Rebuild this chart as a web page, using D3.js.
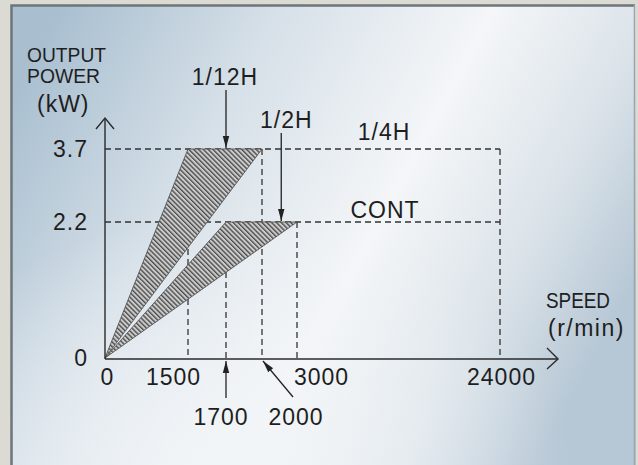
<!DOCTYPE html>
<html>
<head>
<meta charset="utf-8">
<script src="https://cdn.jsdelivr.net/npm/d3@7"></script>
<style>
  body { margin: 0; background: #dcdbd3; }
  svg { display: block; }
  text { font-family: "Liberation Sans", Arial, sans-serif; fill: #1e1e1e; }
</style>
</head>
<body>
<div id="chart"></div>
<script>
// chart values
var speedTicks = [0, 1500, 3000, 24000];
var speedCallouts = [1700, 2000];
var powerTicks = [0, 2.2, 3.7];
var speedBreaks = [0, 1500, 1700, 2000, 3000, 24000];
var powerBreaks = [0, 2.2, 3.7];

// hatched ranges: [speed at lower corner, speed at upper corner, power]
var ranges = [
  { name: "1/12H", from: 1500, to: 2000, power: 3.7 },
  { name: "1/2H",  from: 1700, to: 3000, power: 2.2 }
];
var dashedH = [
  { power: 3.7, to: 24000 },
  { power: 2.2, to: 24000 }
];
var dashedV = [
  { speed: 1500, power: 3.7 },
  { speed: 2000, power: 3.7 },
  { speed: 1700, power: 2.2 },
  { speed: 3000, power: 2.2 },
  { speed: 24000, power: 3.7 }
];

var W = 638, H = 465;

// the drawing is schematic: piecewise scales
var x = d3.scaleLinear().domain(speedBreaks).range([105, 188, 226, 262, 297, 500]);
var y = d3.scaleLinear().domain(powerBreaks).range([358, 222, 149]);

var svg = d3.select("#chart").append("svg")
  .attr("width", W)
  .attr("height", H);

var defs = svg.append("defs");

// panel gradient
var grad = defs.append("linearGradient")
  .attr("id", "bg")
  .attr("x1", 0).attr("y1", 0.2)
  .attr("x2", 1).attr("y2", 0.6);
[[0, "#a9bfd0"], [0.3, "#d6e0e8"], [0.6, "#f4f6f8"], [0.82, "#dbe3e9"], [1, "#b6c7d5"]]
  .forEach(function(s) {
    grad.append("stop").attr("offset", s[0]).attr("stop-color", s[1]);
  });

var glow = defs.append("radialGradient")
  .attr("id", "glow")
  .attr("cx", 0.35).attr("cy", 1).attr("r", 0.55);
glow.append("stop").attr("offset", 0).attr("stop-color", "#f2f5f8").attr("stop-opacity", 0.9);
glow.append("stop").attr("offset", 1).attr("stop-color", "#f2f5f8").attr("stop-opacity", 0);

// hatch pattern
var hatch = defs.append("pattern")
  .attr("id", "hatch")
  .attr("patternUnits", "userSpaceOnUse")
  .attr("width", 3.4)
  .attr("height", 3.4)
  .attr("patternTransform", "rotate(-45)");
hatch.append("rect")
  .attr("width", 3.4).attr("height", 3.4)
  .attr("fill", "#cbcbcb");
hatch.append("line")
  .attr("x1", 0.7).attr("y1", 0)
  .attr("x2", 0.7).attr("y2", 3.4)
  .attr("stroke", "#454545")
  .attr("stroke-width", 1.3);

// arrowhead
defs.append("marker")
  .attr("id", "head")
  .attr("viewBox", "0 0 12 8")
  .attr("refX", 12).attr("refY", 4)
  .attr("markerWidth", 12).attr("markerHeight", 8)
  .attr("markerUnits", "userSpaceOnUse")
  .attr("orient", "auto")
  .append("path")
  .attr("d", "M0,0.8L12,4L0,7.2Z")
  .attr("fill", "#222");

// panel and frame
svg.append("rect")
  .attr("x", 11).attr("y", 5)
  .attr("width", W - 13).attr("height", H)
  .attr("fill", "url(#bg)");
svg.append("rect")
  .attr("x", 11).attr("y", 5)
  .attr("width", W - 13).attr("height", H)
  .attr("fill", "url(#glow)");
svg.append("path")
  .attr("d", "M11.5," + H + "V5.5H" + (W - 3))
  .attr("fill", "none")
  .attr("stroke", "#6d757b")
  .attr("stroke-width", 2.5);
svg.append("line")
  .attr("x1", W - 3.5).attr("y1", 5)
  .attr("x2", W - 3.5).attr("y2", H)
  .attr("stroke", "#9aa4ab")
  .attr("stroke-width", 1.5);

// dashed guide lines
var guides = svg.append("g")
  .attr("stroke", "#333")
  .attr("stroke-width", 1.3)
  .attr("stroke-dasharray", "6,4")
  .attr("fill", "none");

guides.selectAll(".h")
  .data(dashedH)
  .enter().append("line")
  .attr("x1", x(0)).attr("x2", function(d) { return x(d.to); })
  .attr("y1", function(d) { return y(d.power); })
  .attr("y2", function(d) { return y(d.power); });

guides.selectAll(".v")
  .data(dashedV)
  .enter().append("line")
  .attr("x1", function(d) { return x(d.speed); })
  .attr("x2", function(d) { return x(d.speed); })
  .attr("y1", function(d) { return y(d.power); })
  .attr("y2", y(0));

// hatched triangles
svg.selectAll(".range")
  .data(ranges)
  .enter().append("path")
  .attr("d", function(d) {
    return d3.line()([[x(0), y(0)], [x(d.from), y(d.power)], [x(d.to), y(d.power)]]) + "Z";
  })
  .attr("fill", "url(#hatch)")
  .attr("stroke", "#555")
  .attr("stroke-width", 0.9);

// axes
var axisG = svg.append("g")
  .attr("stroke", "#2a2a2a")
  .attr("stroke-width", 1.4)
  .attr("fill", "none");

axisG.append("path")
  .attr("d", "M" + x(0) + "," + (y(0) + 1) + "H" + (x(24000) + 58));
axisG.append("path")
  .attr("d", "M" + (x(24000) + 47) + "," + (y(0) - 10) + "L" + (x(24000) + 58) + "," + (y(0) + 1) + "L" + (x(24000) + 47) + "," + (y(0) + 11));
axisG.append("path")
  .attr("d", "M" + x(0) + "," + (y(0) + 1) + "V" + (y(3.7) - 31));
axisG.append("path")
  .attr("d", "M" + (x(0) - 9) + "," + (y(3.7) - 20) + "L" + x(0) + "," + (y(3.7) - 31) + "L" + (x(0) + 9) + "," + (y(3.7) - 20));

// tick labels
var yAxis = svg.append("g")
  .attr("transform", "translate(" + x(0) + ",0)")
  .call(d3.axisLeft(y).tickValues(powerTicks).tickSize(0).tickPadding(17)
    .tickFormat(function(d) { return d === 0 ? "0" : d3.format(".1f")(d); }));
yAxis.select(".domain").remove();

var xAxis = svg.append("g")
  .attr("transform", "translate(0," + (y(0) + 1) + ")")
  .call(d3.axisBottom(x).tickValues(speedTicks).tickSize(0).tickPadding(10)
    .tickFormat(d3.format("d")));
xAxis.select(".domain").remove();

var labelShift = { 0: 2, 1500: -15, 3000: 24, 24000: 1 };
xAxis.selectAll(".tick text")
  .attr("dx", function(d) { return labelShift[d]; });

svg.selectAll(".tick text")
  .attr("font-family", "Liberation Sans, Arial, sans-serif")
  .attr("font-size", 23)
  .attr("letter-spacing", 1)
  .attr("fill", "#1e1e1e");

// callouts under the speed axis
var calloutShift = { 1700: -5, 2000: 34 };
svg.selectAll(".callout")
  .data(speedCallouts)
  .enter().append("text")
  .attr("x", function(d) { return x(d) + calloutShift[d]; })
  .attr("y", y(0) + 67)
  .attr("text-anchor", "middle")
  .attr("font-size", 23)
  .attr("letter-spacing", 1)
  .text(function(d) { return d; });

var arrows = svg.append("g")
  .attr("stroke", "#222")
  .attr("stroke-width", 1.3);

arrows.append("line")
  .attr("x1", x(1700)).attr("y1", y(0) + 40)
  .attr("x2", x(1700)).attr("y2", y(0) + 3)
  .attr("marker-end", "url(#head)");
arrows.append("line")
  .attr("x1", x(2000) + 31).attr("y1", y(0) + 39)
  .attr("x2", x(2000) + 1).attr("y2", y(0) + 3)
  .attr("marker-end", "url(#head)");

// range labels with pointers
arrows.append("line")
  .attr("x1", x(1700)).attr("y1", y(3.7) - 59)
  .attr("x2", x(1700)).attr("y2", y(3.7) - 1)
  .attr("marker-end", "url(#head)");
arrows.append("line")
  .attr("x1", x(2550)).attr("y1", y(2.2) - 89)
  .attr("x2", x(2550)).attr("y2", y(2.2) - 1)
  .attr("marker-end", "url(#head)");

var labels = [
  { t: "1/12H", x: x(1700) - 1, y: y(3.7) - 64 },
  { t: "1/2H",  x: x(2550) + 5, y: y(2.2) - 94 },
  { t: "1/4H",  x: 384, y: y(3.7) - 9 },
  { t: "CONT",  x: 385, y: y(2.2) - 4 }
];
svg.selectAll(".lbl")
  .data(labels)
  .enter().append("text")
  .attr("x", function(d) { return d.x; })
  .attr("y", function(d) { return d.y; })
  .attr("text-anchor", "middle")
  .attr("font-size", 23)
  .attr("letter-spacing", 1)
  .text(function(d) { return d.t; });

// axis titles
svg.append("text").attr("x", 27).attr("y", 62)
  .attr("font-size", 21).attr("textLength", 79).attr("lengthAdjust", "spacingAndGlyphs")
  .text("OUTPUT");
svg.append("text").attr("x", 27).attr("y", 83)
  .attr("font-size", 21).attr("textLength", 73).attr("lengthAdjust", "spacingAndGlyphs")
  .text("POWER");
svg.append("text").attr("x", 37).attr("y", 112)
  .attr("font-size", 23).attr("letter-spacing", 1)
  .text("(kW)");
svg.append("text").attr("x", 546).attr("y", 308)
  .attr("font-size", 22).attr("textLength", 64).attr("lengthAdjust", "spacingAndGlyphs")
  .text("SPEED");
svg.append("text").attr("x", 548).attr("y", 336)
  .attr("font-size", 23).attr("letter-spacing", 1.5)
  .text("(r/min)");
</script>
</body>
</html>
